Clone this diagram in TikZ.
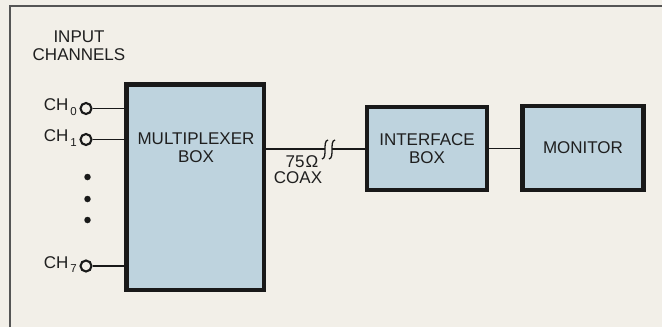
\documentclass[tikz,border=0pt]{standalone}
\usepackage{fontspec}
\setmainfont{Liberation Sans}
\newcommand\diafont{\fontsize{17}{18}\selectfont}
\newcommand\subfont{\fontsize{11.5}{12}\selectfont}
\begin{document}
\begin{tikzpicture}[x=1pt,y=-1pt,
  ink/.style={draw=black!90},
  txt/.style={font=\diafont, text=black!88, align=center},
  blockbox/.style={ink, line width=4.5pt, fill=boxfill, inner sep=0pt, txt},
  port/.style={circle, ink, line width=2.1pt, minimum size=11pt, inner sep=0pt},
  wire/.style={ink, line width=1.6pt},
  lbl/.style={txt, inner sep=0pt},
  dotmark/.style={circle, fill=black!90, minimum size=6.5pt, inner sep=0pt}
]
\definecolor{paper}{RGB}{242,239,232}
\definecolor{boxfill}{RGB}{190,211,222}
\definecolor{framec}{RGB}{85,85,85}
\useasboundingbox[fill=paper] (0,0) rectangle (662,327);
% frame
\draw[draw=framec, line width=1.8pt] (10,327) -- (10,6) -- (662,6);

% blocks
\node[blockbox, minimum width=137.5pt, minimum height=205.5pt] (mux) at (195.25,187.25) {};
\node[lbl] (muxt) at (196,148) {MULTIPLEXER\\BOX};
\node[blockbox, minimum width=120pt, minimum height=83pt] (iface) at (427,148.5) {INTERFACE\\BOX};
\node[blockbox, minimum width=121pt, minimum height=84pt] (mon) at (583,148) {MONITOR};

% title
\node[lbl] (title) at (79,46) {INPUT\\CHANNELS};

% channels
\node[port] (p0) at (86,108.5) {};
\node[port] (p1) at (86,139.5) {};
\node[port] (p7) at (86,266) {};
\node[lbl, anchor=east] (l0) at (77,107) {CH\raisebox{-0.5ex}{\subfont\,0}};
\node[lbl, anchor=east] (l1) at (77,138) {CH\raisebox{-0.5ex}{\subfont\,1}};
\node[lbl, anchor=east] (l7) at (77,264.5) {CH\raisebox{-0.5ex}{\subfont\,7}};
\draw[wire] (p0.east) -- (mux.west |- p0);
\draw[wire] (p1.east) -- (mux.west |- p1);
\draw[wire] (p7.east) -- (mux.west |- p7);
\node[dotmark] (d1) at (87.5,177) {};
\node[dotmark] (d2) at (87.5,199) {};
\node[dotmark] (d3) at (87.5,220) {};

% coax with break
\coordinate (b1) at (325,149);
\coordinate (b2) at (332,149);
\draw[wire] (mux.east |- b1) -- (b1);
\draw[wire] (b2) -- (iface.west |- b2);
\draw[ink, line width=1.3pt] (322,159) .. controls (328,158) and (322,141) .. (328,140);
\draw[ink, line width=1.3pt] (329,159) .. controls (335,158) and (329,141) .. (335,140);
\node[lbl] (ohm) at (302,162) {75\kern1ptΩ};
\node[lbl] (coax) at (298,178) {COAX};

% interface to monitor
\draw[wire] (iface.east) -- (mon.west |- iface.east);
\end{tikzpicture}
\end{document}
